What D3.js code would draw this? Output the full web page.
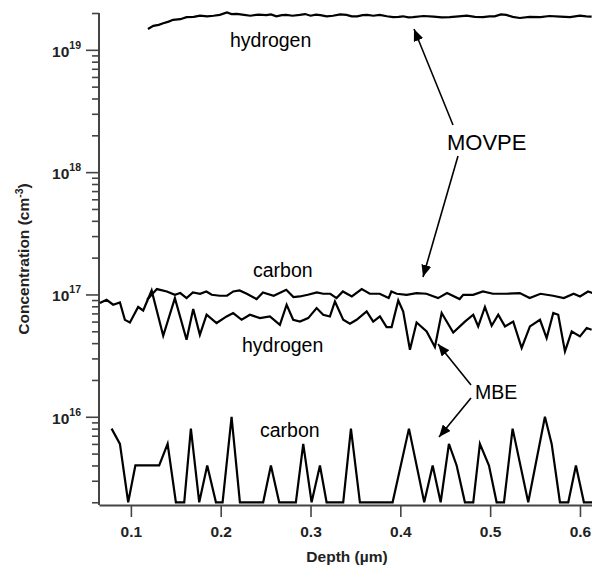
<!DOCTYPE html>
<html>
<head>
<meta charset="utf-8">
<script src="https://cdn.jsdelivr.net/npm/d3@7"></script>
<style>
  body { margin: 0; background: #fff; }
  svg { display: block; font-family: "Liberation Sans", Arial, sans-serif; }
</style>
</head>
<body>
<svg id="chart" width="592" height="566"></svg>
<script>
// MOVPE hydrogen (cm^-3)
const movpeHDepth = [0.119, 0.125, 0.131, 0.136, 0.142, 0.147, 0.155, 0.162, 0.170, 0.177, 0.185, 0.192, 0.199, 0.207, 0.212, 0.218, 0.226, 0.233, 0.242, 0.251, 0.256, 0.262, 0.268, 0.273, 0.280, 0.288, 0.294, 0.300, 0.306, 0.311, 0.318, 0.325, 0.333, 0.340, 0.346, 0.352, 0.358, 0.363, 0.370, 0.377, 0.385, 0.392, 0.398, 0.403, 0.409, 0.414, 0.426, 0.437, 0.446, 0.455, 0.465, 0.474, 0.483, 0.492, 0.499, 0.505, 0.512, 0.518, 0.525, 0.533, 0.544, 0.556, 0.566, 0.578, 0.589, 0.600, 0.607, 0.613];
const movpeH = [1.48e19, 1.57e19, 1.60e19, 1.65e19, 1.70e19, 1.76e19, 1.78e19, 1.85e19, 1.86e19, 1.90e19, 1.88e19, 1.90e19, 1.93e19, 2.02e19, 1.96e19, 1.97e19, 1.93e19, 1.90e19, 1.94e19, 1.92e19, 1.95e19, 1.88e19, 1.92e19, 1.93e19, 1.90e19, 1.93e19, 1.96e19, 1.90e19, 1.94e19, 1.92e19, 1.88e19, 1.90e19, 1.95e19, 1.93e19, 1.88e19, 1.88e19, 1.92e19, 1.93e19, 1.90e19, 1.93e19, 1.88e19, 1.85e19, 1.86e19, 1.88e19, 1.84e19, 1.85e19, 1.89e19, 1.87e19, 1.84e19, 1.85e19, 1.88e19, 1.90e19, 1.86e19, 1.85e19, 1.88e19, 1.88e19, 1.95e19, 1.93e19, 1.86e19, 1.82e19, 1.86e19, 1.85e19, 1.89e19, 1.87e19, 1.85e19, 1.90e19, 1.88e19, 1.87e19];

// MOVPE carbon
const movpeCDepth = [0.118, 0.129, 0.140, 0.149, 0.155, 0.162, 0.169, 0.177, 0.184, 0.190, 0.199, 0.207, 0.214, 0.221, 0.229, 0.240, 0.247, 0.259, 0.273, 0.281, 0.288, 0.297, 0.307, 0.314, 0.322, 0.329, 0.336, 0.346, 0.357, 0.366, 0.377, 0.387, 0.390, 0.396, 0.407, 0.418, 0.429, 0.442, 0.452, 0.466, 0.470, 0.481, 0.492, 0.503, 0.518, 0.533, 0.544, 0.556, 0.570, 0.582, 0.593, 0.600, 0.609, 0.614];
const movpeC = [0.905e17, 1.107e17, 1.058e17, 0.994e17, 1.027e17, 0.934e17, 1.038e17, 1.013e17, 1.058e17, 0.994e17, 0.976e17, 0.976e17, 1.058e17, 1.078e17, 1.013e17, 0.917e17, 1.038e17, 0.976e17, 1.092e17, 0.952e17, 0.963e17, 0.994e17, 1.038e17, 1.013e17, 1.013e17, 0.934e17, 1.058e17, 0.963e17, 1.107e17, 1.013e17, 1.013e17, 0.934e17, 1.058e17, 1.013e17, 0.994e17, 1.027e17, 1.013e17, 0.934e17, 1.027e17, 0.917e17, 0.994e17, 0.994e17, 1.058e17, 1.013e17, 1.013e17, 1.027e17, 0.934e17, 1.013e17, 0.976e17, 0.934e17, 1.013e17, 0.963e17, 1.058e17, 1.027e17];

// MBE hydrogen
const mbeHDepth = [0.0655, 0.0729, 0.0803, 0.0878, 0.0933, 0.0989, 0.1081, 0.1137, 0.1231, 0.1360, 0.1490, 0.1620, 0.1694, 0.1768, 0.1843, 0.1954, 0.2066, 0.2139, 0.2233, 0.2325, 0.2437, 0.2548, 0.2659, 0.2734, 0.2807, 0.2882, 0.2974, 0.3068, 0.3141, 0.3216, 0.3272, 0.3364, 0.3439, 0.3513, 0.3625, 0.3698, 0.3773, 0.3847, 0.3903, 0.3977, 0.4032, 0.4107, 0.4181, 0.4293, 0.4385, 0.4460, 0.4589, 0.4719, 0.4812, 0.4867, 0.4942, 0.5017, 0.5090, 0.5165, 0.5257, 0.5351, 0.5443, 0.5555, 0.5629, 0.5703, 0.5758, 0.5833, 0.5908, 0.6000, 0.6075, 0.6130];
const mbeH = [0.85e17, 0.905e17, 0.824e17, 0.86e17, 0.62e17, 0.59e17, 0.79e17, 0.74e17, 1.078e17, 0.46e17, 0.934e17, 0.426e17, 0.76e17, 0.468e17, 0.683e17, 0.584e17, 0.661e17, 0.705e17, 0.621e17, 0.683e17, 0.641e17, 0.661e17, 0.565e17, 0.824e17, 0.621e17, 0.60e17, 0.641e17, 0.774e17, 0.683e17, 0.661e17, 0.877e17, 0.621e17, 0.576e17, 0.621e17, 0.726e17, 0.60e17, 0.661e17, 0.541e17, 0.541e17, 0.893e17, 0.726e17, 0.353e17, 0.59e17, 0.498e17, 0.372e17, 0.705e17, 0.489e17, 0.60e17, 0.683e17, 0.548e17, 0.79e17, 0.555e17, 0.683e17, 0.548e17, 0.60e17, 0.365e17, 0.548e17, 0.621e17, 0.44e17, 0.705e17, 0.683e17, 0.342e17, 0.498e17, 0.454e17, 0.531e17, 0.514e17];

// MBE carbon
const mbeCDepth = [0.0785, 0.0878, 0.0970, 0.1050, 0.1315, 0.1409, 0.1501, 0.1594, 0.1668, 0.1761, 0.1850, 0.1947, 0.2021, 0.2121, 0.2214, 0.2473, 0.2559, 0.2651, 0.2837, 0.2919, 0.3012, 0.3105, 0.3179, 0.3364, 0.3450, 0.3550, 0.3914, 0.4096, 0.4266, 0.4360, 0.4449, 0.4541, 0.4627, 0.4719, 0.4812, 0.4886, 0.4987, 0.5072, 0.5154, 0.5250, 0.5424, 0.5610, 0.5685, 0.5777, 0.5870, 0.5955, 0.6044, 0.6141];
const mbeC = [8e15, 6e15, 2e15, 4e15, 4e15, 6e15, 2e15, 2e15, 8e15, 2e15, 4e15, 2e15, 2e15, 10e15, 2e15, 2e15, 4e15, 2e15, 2e15, 6e15, 2e15, 4e15, 2e15, 2e15, 8e15, 2e15, 2e15, 8e15, 2e15, 4e15, 2e15, 6e15, 4e15, 2e15, 2e15, 6e15, 4e15, 2e15, 2e15, 8e15, 2e15, 10e15, 6e15, 2e15, 2e15, 4e15, 2e15, 2e15];

const xTicks = [0.1, 0.2, 0.3, 0.4, 0.5, 0.6];
const yMajor = [1e16, 1e17, 1e18, 1e19];

const svg = d3.select("#chart");
const plotLeft = 99, plotRight = 592, plotTop = 13, plotBottom = 505;

const x = d3.scaleLinear().domain([0.0645, 0.6134]).range([plotLeft, plotRight]);
const y = d3.scaleLog().domain([1.9e15, 2e19]).range([plotBottom, plotTop]);

const axisColor = "#444";

// minor ticks 2..9 of every decade
let yMinor = [];
for (let e = 15; e <= 19; e++) {
    for (let m = 2; m <= 9; m++) {
        const v = m * Math.pow(10, e);
        if (v >= 1.9e15 && v <= 2.01e19) yMinor.push(v);
    }
}

const defs = svg.append("defs");
defs.append("clipPath").attr("id", "plot")
    .append("rect").attr("x", plotLeft).attr("y", 0).attr("width", plotRight - plotLeft + 5).attr("height", plotBottom);

defs.append("marker")
    .attr("id", "arrow")
    .attr("viewBox", "0 0 12 10")
    .attr("refX", 12).attr("refY", 5)
    .attr("markerWidth", 12).attr("markerHeight", 10)
    .attr("markerUnits", "userSpaceOnUse")
    .attr("orient", "auto")
    .append("path").attr("d", "M0,0 L12,5 L0,10 Z").attr("fill", "#000");

// y axis
const yAxisMinor = svg.append("g")
    .attr("transform", "translate(" + plotLeft + ",0)")
    .call(d3.axisLeft(y).tickValues(yMinor).tickSize(7).tickSizeOuter(0).tickFormat(""));
yAxisMinor.select(".domain").remove();

const yAxis = svg.append("g")
    .attr("transform", "translate(" + plotLeft + ",0)")
    .call(d3.axisLeft(y).tickValues(yMajor).tickSize(13).tickSizeOuter(0).tickFormat(""));

svg.selectAll(".tick line").attr("stroke", axisColor).attr("stroke-width", 1.6);
yAxis.select(".domain").attr("stroke", axisColor).attr("stroke-width", 2)
    .attr("d", "M0," + plotTop + "V" + plotBottom);

yMajor.forEach(function (v) {
    const t = svg.append("text")
        .attr("x", 81).attr("y", y(v) + 7)
        .attr("text-anchor", "end")
        .attr("font-size", 15.5).attr("font-weight", "bold").attr("fill", "#222");
    t.append("tspan").text("10");
    t.append("tspan").attr("dy", -8).attr("font-size", 10.5).text(Math.round(Math.log10(v)));
});

// x axis
const xAxis = svg.append("g")
    .attr("transform", "translate(0," + plotBottom + ")")
    .call(d3.axisBottom(x).tickValues(xTicks).tickSize(12).tickSizeOuter(0).tickPadding(9).tickFormat(d3.format(".1f")));
xAxis.select(".domain").attr("stroke", axisColor).attr("stroke-width", 2);
xAxis.selectAll(".tick line").attr("stroke", axisColor).attr("stroke-width", 1.6);
xAxis.selectAll(".tick text").attr("font-size", 15.5).attr("font-weight", "bold").attr("fill", "#222")
    .attr("font-family", "Liberation Sans, Arial, sans-serif");

// axis titles
svg.append("text")
    .attr("x", 347).attr("y", 562)
    .attr("text-anchor", "middle").attr("font-size", 15.5).attr("font-weight", "bold").attr("fill", "#222")
    .text("Depth (µm)");

const yt = svg.append("text")
    .attr("transform", "translate(29,259) rotate(-90)")
    .attr("text-anchor", "middle").attr("font-size", 15.5).attr("font-weight", "bold").attr("fill", "#222");
yt.append("tspan").text("Concentration (cm");
yt.append("tspan").attr("dy", -6).attr("font-size", 10.5).text("-3");
yt.append("tspan").attr("dy", 6).text(")");

// series
const line = d3.line()
    .x(function (d) { return x(d[0]); })
    .y(function (d) { return y(d[1]); });

const series = [
    d3.zip(movpeHDepth, movpeH),
    d3.zip(movpeCDepth, movpeC),
    d3.zip(mbeHDepth, mbeH),
    d3.zip(mbeCDepth, mbeC)
];

svg.append("g").attr("clip-path", "url(#plot)")
    .selectAll("path")
    .data(series)
    .enter().append("path")
    .attr("d", line)
    .attr("fill", "none")
    .attr("stroke", "#000")
    .attr("stroke-width", 2.2)
    .attr("stroke-linejoin", "miter");

// labels
const labels = [
    { text: "hydrogen", x: 230, y: 47 },
    { text: "carbon", x: 253, y: 277 },
    { text: "hydrogen", x: 242, y: 352 },
    { text: "carbon", x: 260, y: 437 },
    { text: "MOVPE", x: 447, y: 150 },
    { text: "MBE", x: 475, y: 399 }
];
svg.selectAll(".lbl")
    .data(labels)
    .enter().append("text")
    .attr("class", "lbl")
    .attr("x", function (d) { return d.x; })
    .attr("y", function (d) { return d.y; })
    .attr("font-size", function (d) { return d.text === "MOVPE" ? 22 : 19.5; })
    .attr("fill", "#000")
    .text(function (d) { return d.text; });

const arrows = [
    [453, 125, 414, 29],
    [458, 156, 423, 277],
    [471, 385, 438, 344],
    [471, 398, 439, 437]
];
svg.selectAll(".arr")
    .data(arrows)
    .enter().append("line")
    .attr("class", "arr")
    .attr("x1", function (d) { return d[0]; })
    .attr("y1", function (d) { return d[1]; })
    .attr("x2", function (d) { return d[2]; })
    .attr("y2", function (d) { return d[3]; })
    .attr("stroke", "#000")
    .attr("stroke-width", 1.6)
    .attr("marker-end", "url(#arrow)");
</script>
</body>
</html>
